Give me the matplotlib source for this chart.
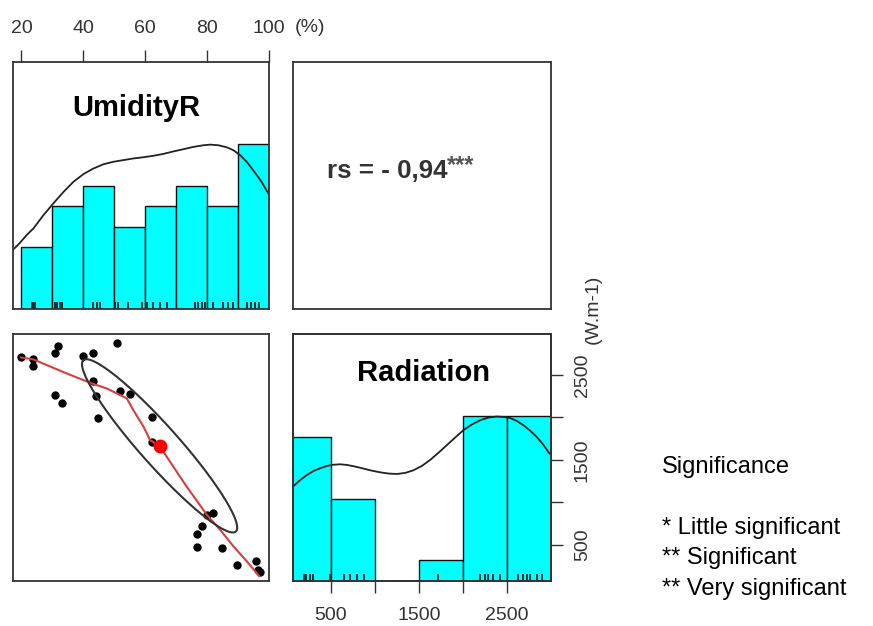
import numpy as np
import matplotlib
matplotlib.use("Agg")
import matplotlib.pyplot as plt

plt.rcParams["font.family"] = ["Liberation Sans", "DejaVu Sans"]

# humidity histogram (10% bins) and density curve
hum_edges = [20, 30, 40, 50, 60, 70, 80, 90]
hum_counts = [3, 5, 6, 4, 5, 6, 5, 8]
hum_dens_x = [17.2, 19.6, 21.7, 23.9, 27.1, 30.3, 33.6, 36.8, 40.0, 43.2, 46.5, 49.7, 52.9,
              56.1, 59.4, 62.6, 65.8, 69.0, 72.3, 75.5, 78.7, 80.9, 83.6, 86.3, 88.4, 90.6,
              92.7, 94.8, 97.5, 100]
hum_dens_y = [2.87, 3.23, 3.60, 3.92, 4.56, 5.13, 5.69, 6.18, 6.55, 6.82, 7.03, 7.15, 7.23,
              7.31, 7.37, 7.44, 7.53, 7.65, 7.76, 7.87, 7.95, 7.98, 7.95, 7.85, 7.71, 7.47,
              7.15, 6.74, 6.18, 5.53]
hum_rug = [23.3, 23.9, 24.4, 30.9, 31.6, 32.5, 33.0, 43.2, 44.3, 45.4, 50.2, 51.3, 54.5,
           58.8, 60.5, 62.6, 64.7, 66.9, 76.0, 77.1, 78.2, 79.3, 81.9, 85.2, 86.8, 88.4,
           92.7, 94.0, 95.4, 96.8]

# radiation histogram (500 bins) and density curve
rad_edges = [0, 500, 1000, 1500, 2000, 2500]
rad_counts = [7, 4, 0, 1, 8, 8]
rad_dens_x = [68, 151, 227, 303, 378, 454, 530, 606, 681, 776, 871, 966, 1060, 1155, 1250,
              1344, 1439, 1534, 1628, 1723, 1818, 1913, 2007, 2102, 2197, 2291, 2386, 2462,
              2538, 2613, 2689, 2765, 2841, 2916, 2985]
rad_dens_y = [4.59, 4.91, 5.15, 5.35, 5.48, 5.59, 5.65, 5.67, 5.64, 5.56, 5.46, 5.36, 5.28,
              5.22, 5.20, 5.25, 5.38, 5.59, 5.88, 6.23, 6.60, 6.97, 7.33, 7.60, 7.81, 7.94,
              7.99, 7.97, 7.92, 7.78, 7.57, 7.31, 7.00, 6.62, 6.20]
rad_rug = [189, 219, 265, 295, 492, 644, 720, 795, 871, 1723, 2197, 2253, 2291, 2348, 2424,
           2632, 2689, 2727, 2765, 2841, 2898]

# scatter humidity vs radiation
sc_hum = [19.8, 23.9, 23.9, 30.9, 31.9, 50.8, 39.8, 43.0, 43.0, 44.1, 30.9, 33.0, 44.8, 51.8,
          55.1, 62.1, 62.1, 79.8, 81.9, 78.2, 76.8, 76.8, 84.6, 89.7, 95.7, 96.5, 97.0]
sc_rad = [2708, 2685, 2606, 2762, 2841, 2880, 2724, 2755, 2429, 2253, 2265, 2174, 1990, 2315,
          2276, 2002, 1715, 853, 873, 724, 629, 468, 461, 253, 304, 198, 174]
smooth_hum = [19.8, 23.9, 28.2, 34.6, 42.7, 47.5, 54.0, 56.1, 59.4, 61.5, 64.7, 69.0, 73.3, 79.8, 84.1, 88.4, 92.7, 96.8]
smooth_rad = [2708, 2685, 2618, 2520, 2402, 2343, 2226, 2088, 1892, 1735, 1657, 1421, 1186, 853, 676, 480, 304, 127]
mean_pt = (64.6, 1665)
ell_tip = (40.0, 2676)
ell_ratio = 0.17

rs_text = "rs = - 0,94"
sig_lines = ["* Little significant", "** Significant", "** Very significant"]

W, H = 873, 626
fig = plt.figure(figsize=(W / 100, H / 100), dpi=100)


def px_axes(x0, y0, x1, y1):
    return fig.add_axes([x0 / W, 1 - y1 / H, (x1 - x0) / W, (y1 - y0) / H])


def frame(ax):
    for s in ax.spines.values():
        s.set_color("#333333")
        s.set_linewidth(1.3)


HUM_LIM = (17.2, 100)
RAD_LIM = (70, 2985)
TICK_KW = dict(length=8.6, width=1, labelsize=14, labelcolor="#333333", color="#333333")

# top-left: humidity histogram
ax1 = px_axes(12.7, 61.7, 269.3, 309.3)
ax1.bar(hum_edges, hum_counts, width=10, align="edge", color="#00ffff",
        edgecolor="#111111", lw=1)
ax1.plot(hum_dens_x, hum_dens_y, color="#222222", lw=1.3)
ax1.vlines(hum_rug, 0, 0.35, color="#111111", lw=1.2)
ax1.set_xlim(*HUM_LIM)
ax1.set_ylim(0, 12)
ax1.xaxis.tick_top()
ax1.set_xticks([20, 40, 60, 80, 100])
ax1.tick_params(axis="x", direction="out", pad=9, **TICK_KW)
ax1.set_yticks([])
ax1.text(0.483, 0.813, "UmidityR", transform=ax1.transAxes, ha="center", va="center",
         fontsize=21, fontweight="bold", color="black")
frame(ax1)

# top-right: correlation text
ax2 = px_axes(293, 61.7, 550.7, 309.3)
ax2.set_xticks([])
ax2.set_yticks([])
t = ax2.text(0.131, 0.56, rs_text, transform=ax2.transAxes, ha="left", va="center",
             fontsize=18.6, fontweight="bold", color="#333333")
ax2.annotate("***", xy=(1, 1), xycoords=t, xytext=(0, 3), textcoords="offset points",
             ha="left", va="top", fontsize=17, fontweight="bold", color="#555555")
frame(ax2)

# bottom-left: scatter
ax3 = px_axes(12.7, 334, 269.3, 581)
ax3.set_xlim(*HUM_LIM)
ax3.set_ylim(*RAD_LIM)
ax3.plot(sc_hum, sc_rad, "o", color="black", ms=5)
ax3.plot(smooth_hum, smooth_rad, color="#d43f3f", lw=1.5)
ax3.plot(*mean_pt, "o", color="#ff0000", ms=9)
T = ax3.transData
c = T.transform(mean_pt)
u = T.transform(ell_tip) - c
a = np.hypot(*u)
u = u / a
v = np.array([-u[1], u[0]])
tt = np.linspace(0, 2 * np.pi, 200)
pts = c + np.outer(a * np.cos(tt), u) + np.outer(a * ell_ratio * np.sin(tt), v)
ell = T.inverted().transform(pts)
ax3.plot(ell[:, 0], ell[:, 1], color="#333333", lw=1.5)
ax3.set_xticks([])
ax3.set_yticks([])
frame(ax3)

# bottom-right: radiation histogram
ax4 = px_axes(293, 334, 550.7, 581)
ax4.bar(rad_edges, rad_counts, width=500, align="edge", color="#00ffff",
        edgecolor="#111111", lw=1)
ax4.plot(rad_dens_x, rad_dens_y, color="#222222", lw=1.3)
ax4.vlines(rad_rug, 0, 0.35, color="#111111", lw=1.2)
ax4.set_xlim(68, 3000)
ax4.set_ylim(0, 12)
ax4.set_xticks([500, 1000, 1500, 2000, 2500])
ax4.set_xticklabels(["500", "", "1500", "", "2500"])
ax4.tick_params(axis="x", direction="out", pad=10, **TICK_KW)
ax4.set_yticks([])
ax4.text(0.508, 0.842, "Radiation", transform=ax4.transAxes, ha="center", va="center",
         fontsize=21, fontweight="bold", color="black")
frame(ax4)

ax5 = ax4.twinx()
ax5.set_ylim(*RAD_LIM)
ax5.set_yticks([500, 1000, 1500, 2000, 2500])
ax5.set_yticklabels(["500", "", "1500", "", "2500"])
ax5.tick_params(axis="y", direction="out", pad=8, labelrotation=90, **TICK_KW)
for lbl in ax5.get_yticklabels():
    lbl.set_va("center")
frame(ax5)

# units
fig.text(310 / W, 1 - 27.5 / H, "(%)", ha="center", va="center", fontsize=14, color="#333333")
fig.text(593 / W, 1 - 309 / H, "(W.m-1)", ha="center", va="center", rotation=90,
         fontsize=14, color="#333333")

# significance legend
fig.text(661.7 / W, 1 - 466.7 / H, "Significance", ha="left", va="center", fontsize=17, color="black")
for y, s in zip([528, 558, 589], sig_lines):
    fig.text(661.7 / W, 1 - y / H, s, ha="left", va="center", fontsize=17, color="black")

fig.savefig("out.png", dpi=100)
